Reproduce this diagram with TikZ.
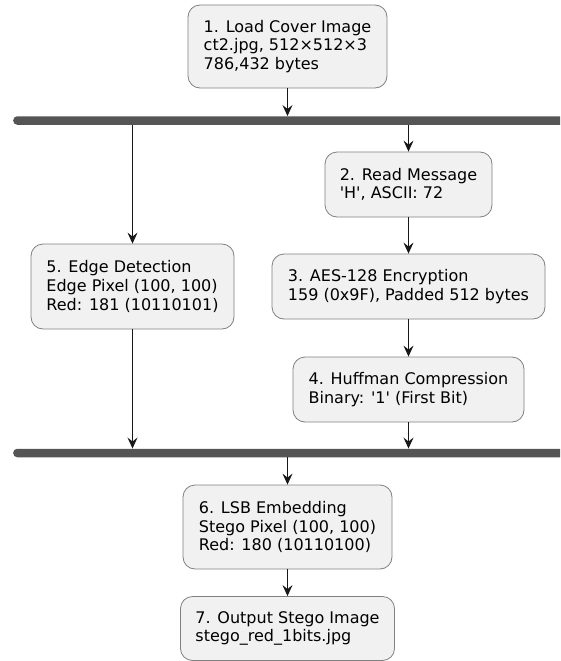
\documentclass[tikz,border=0pt]{standalone}
\usepackage{fontspec}
\setmainfont{DejaVu Sans}
\usetikzlibrary{arrows.meta}
\definecolor{boxfill}{HTML}{F1F1F1}
\definecolor{barc}{HTML}{555555}
\definecolor{linec}{HTML}{181818}
\newcommand\sqt{\textquotesingle}
\begin{document}
\begin{tikzpicture}[x=1pt,y=-1pt,
  act/.style={draw=black!50, line width=0.8pt, fill=boxfill, rounded corners=12pt,
    align=left, font=\fontsize{16}{18.6}\selectfont, inner sep=0pt, text=black},
  forkbar/.style={fill=barc, rounded corners=4pt, inner sep=0pt,
    minimum height=8.5pt, minimum width=600pt, anchor=west},
  flow/.style={draw=linec, line width=1pt, -{Stealth[length=11pt,width=10pt,inset=4pt]}}]
\useasboundingbox (0,0) rectangle (560,661);
\clip (0,0) rectangle (560,661);
\node[act, minimum width=199pt, minimum height=83pt] (b1) at (287.5,46.5)
  {1. Load Cover Image\\ct2.jpg, 512×512×3\\786,432 bytes};
\node[forkbar] (fork) at (13,120.5) {};
\node[act, minimum width=167pt, minimum height=65pt] (b2) at (408.5,184.5)
  {2. Read Message\\\sqt H\sqt, ASCII: 72};
\node[act, minimum width=273pt, minimum height=65pt] (b3) at (408.5,286.5)
  {3. AES-128 Encryption\\159 (0x9F), Padded 512 bytes};
\node[act, minimum width=231pt, minimum height=65pt] (b4) at (408.5,389.5)
  {4. Huffman Compression\\Binary: \sqt 1\sqt\ (First Bit)};
\node[act, minimum width=203pt, minimum height=85pt] (b5) at (132.5,286.5)
  {5. Edge Detection\\Edge Pixel (100, 100)\\Red: 181 (10110101)};
\node[forkbar] (join) at (13,453) {};
\node[act, minimum width=209pt, minimum height=84pt] (b6) at (287.5,527)
  {6. LSB Embedding\\Stego Pixel (100, 100)\\Red: 180 (10110100)};
\node[act, minimum width=214pt, minimum height=64pt] (b7) at (287.5,628.5)
  {7. Output Stego Image\\stego\_red\_1bits.jpg};
\draw[flow] (b1.south) -- (b1.south |- fork.north);
\draw[flow] (fork.south -| b2.north) -- (b2.north);
\draw[flow] (fork.south -| b5.north) -- (b5.north);
\draw[flow] (b2.south) -- (b3.north);
\draw[flow] (b3.south) -- (b4.north);
\draw[flow] (b4.south) -- (b4.south |- join.north);
\draw[flow] (b5.south) -- (b5.south |- join.north);
\draw[flow] (join.south -| b6.north) -- (b6.north);
\draw[flow] (b6.south) -- (b7.north);
\end{tikzpicture}
\end{document}
